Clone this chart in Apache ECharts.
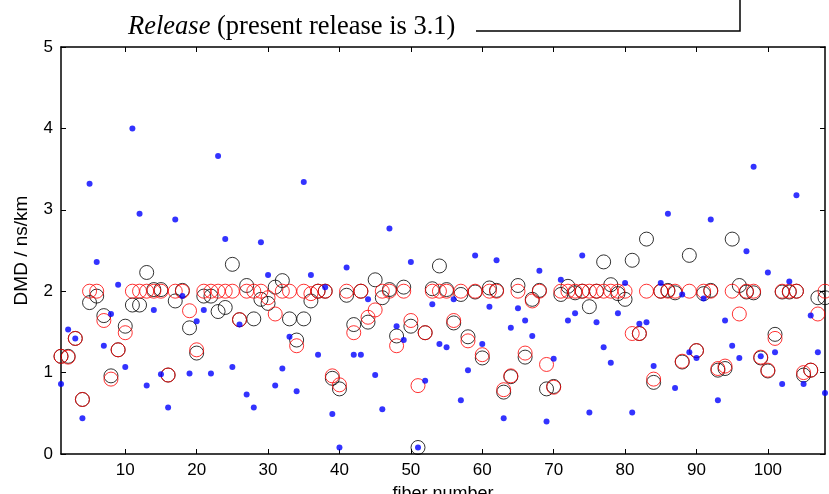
<!DOCTYPE html>
<html>
<head>
<meta charset="utf-8">
<script src="https://cdn.jsdelivr.net/npm/echarts@6/dist/echarts.min.js"></script>
<style>html,body{margin:0;padding:0;background:#fff}#c{width:829px;height:494px}</style>
</head>
<body>
<div id="c"></div>
<script>
// fiber numbers 1..108
const blueDMD = [0.86,1.53,1.42,0.44,3.32,2.36,1.33,1.72,2.08,1.07,
  4.00,2.95,0.84,1.77,0.98,0.57,2.88,1.94,0.99,1.63,
  1.77,0.99,3.66,2.64,1.07,1.59,0.73,0.57,2.60,2.20,
  0.84,1.05,1.44,0.77,3.34,2.20,1.22,2.05,0.49,0.08,
  2.29,1.22,1.22,1.90,0.97,0.55,2.77,1.57,1.40,2.36,
  0.08,0.90,1.84,1.35,1.31,1.90,0.66,1.03,2.44,1.35,
  1.81,2.38,0.44,1.55,1.79,1.64,1.45,2.25,0.40,1.17,
  2.14,1.64,1.73,2.44,0.51,1.62,1.31,1.12,1.73,2.10,
  0.51,1.60,1.62,1.08,2.10,2.95,0.81,1.96,1.25,1.18,
  1.91,2.88,0.66,1.64,1.33,1.18,2.49,3.53,1.20,2.23,
  1.25,0.86,2.12,3.18,0.86,1.70,1.25,0.75];
const blackDMD = [1.20,1.20,1.42,0.67,1.86,1.94,1.70,0.96,1.28,1.57,
  1.83,1.83,2.23,2.02,2.02,0.97,1.88,2.01,1.55,1.24,
  1.94,1.94,1.75,1.80,2.33,1.65,2.07,1.66,1.90,1.85,
  2.05,2.13,1.66,1.40,1.66,1.88,2.00,2.00,0.93,0.80,
  1.95,1.59,2.00,1.62,2.14,1.92,2.02,1.45,2.05,1.57,
  0.08,1.49,2.03,2.31,2.02,1.61,1.96,1.44,1.99,1.18,
  2.04,2.01,0.76,0.95,2.07,1.19,1.90,2.01,0.80,0.83,
  1.96,2.06,1.98,2.00,1.81,2.00,2.36,2.08,1.97,1.90,
  2.38,1.48,2.64,0.88,2.00,2.01,1.98,1.13,2.44,1.27,
  1.97,2.01,1.03,1.05,2.64,2.07,1.99,1.98,1.18,1.02,
  1.47,1.99,1.99,2.00,0.97,1.03,1.92,1.92];
const redDMD = [1.20,1.19,1.42,0.67,2.00,2.00,1.64,0.92,1.28,1.49,
  2.00,2.00,2.00,2.00,2.00,0.97,2.00,2.00,1.76,1.28,
  2.00,2.00,2.00,2.00,2.00,1.65,2.00,2.00,2.00,1.92,
  1.72,2.00,2.00,1.33,2.00,1.97,2.00,2.00,0.96,0.85,
  2.00,1.49,2.00,1.68,1.77,2.00,2.00,1.33,2.00,1.64,
  0.84,1.49,2.00,2.00,2.00,1.64,2.00,1.39,2.00,1.22,
  2.00,2.00,0.79,0.96,2.00,1.24,1.88,2.00,1.10,0.82,
  2.00,2.00,2.00,2.00,2.00,2.00,2.00,2.00,2.00,2.00,
  1.48,1.48,2.00,0.92,2.00,2.00,2.00,1.14,2.00,1.27,
  2.00,2.00,1.05,1.08,2.00,1.72,2.00,2.00,1.19,1.03,
  1.42,2.00,2.00,2.00,1.00,1.03,1.72,2.00];
const fibers = blueDMD.map((_, i) => i + 1);
const xTicks = [10,20,30,40,50,60,70,80,90,100];
const yTicks = [0,1,2,3,4,5];

const pts = arr => arr.map((v, i) => [fibers[i], v]);
const font = 'Liberation Sans, Arial, sans-serif';
const serif = 'Liberation Serif, Times New Roman, serif';
const axisCommon = {
  axisLine: {show: true, onZero: false, lineStyle: {color: '#000', width: 1.5}},
  splitLine: {show: false}
};
const chart = echarts.init(document.getElementById('c'), null, {renderer: 'canvas'});
chart.setOption({
  animation: false,
  backgroundColor: '#fff',
  grid: {left: 61, right: 4, top: 47, bottom: 40, containLabel: false, outerBoundsMode: 'none'},
  xAxis: [
    Object.assign({}, axisCommon, {
      type: 'value', min: 1, max: 108, position: 'bottom',
      name: 'fiber number', nameLocation: 'middle', nameGap: 31,
      nameTextStyle: {fontFamily: font, fontSize: 18, color: '#000', verticalAlign: 'top'},
      axisTick: {show: true, inside: true, length: 5, customValues: xTicks, lineStyle: {color: '#000'}},
      axisLabel: {show: true, customValues: xTicks, margin: 8, fontFamily: font, fontSize: 17, color: '#000'}
    }),
    Object.assign({}, axisCommon, {
      type: 'value', min: 1, max: 108, position: 'top',
      axisTick: {show: true, inside: true, length: 5, customValues: xTicks, lineStyle: {color: '#000'}},
      axisLabel: {show: false}
    })
  ],
  yAxis: [
    Object.assign({}, axisCommon, {
      type: 'value', min: 0, max: 5, interval: 1, position: 'left',
      name: 'DMD / ns/km', nameLocation: 'middle', nameGap: 30, nameRotate: 90,
      nameTextStyle: {fontFamily: font, fontSize: 19, color: '#000'},
      axisTick: {show: true, inside: true, length: 5, lineStyle: {color: '#000'}},
      axisLabel: {show: true, margin: 8, fontFamily: font, fontSize: 17, color: '#000'}
    }),
    Object.assign({}, axisCommon, {
      type: 'value', min: 0, max: 5, interval: 1, position: 'right',
      axisTick: {show: true, inside: true, length: 5, lineStyle: {color: '#000'}},
      axisLabel: {show: false}
    })
  ],
  series: [
    {type: 'scatter', data: pts(blackDMD), symbol: 'circle', symbolSize: 14,
     itemStyle: {color: 'rgba(0,0,0,0)', borderColor: '#000', borderWidth: 1}, z: 2},
    {type: 'scatter', data: pts(redDMD), symbol: 'circle', symbolSize: 14,
     itemStyle: {color: 'rgba(0,0,0,0)', borderColor: '#ff0000', borderWidth: 1}, z: 3},
    {type: 'scatter', data: pts(blueDMD), symbol: 'circle', symbolSize: 6,
     itemStyle: {color: '#0000ff'}, z: 4}
  ],
  graphic: [
    {type: 'text', left: 128, top: 14, z: 10,
     style: {text: '{i|Release} (present release is 3.1)',
       fontFamily: serif, fontSize: 26.5, fill: '#000',
       rich: {i: {fontStyle: 'italic', fontFamily: serif, fontSize: 26.5}}}},
    {type: 'polyline', z: 10, shape: {points: [[476, 31], [740, 31], [740, 0]]},
     style: {stroke: '#000', lineWidth: 1.5, fill: null}}
  ]
});
</script>
</body>
</html>
